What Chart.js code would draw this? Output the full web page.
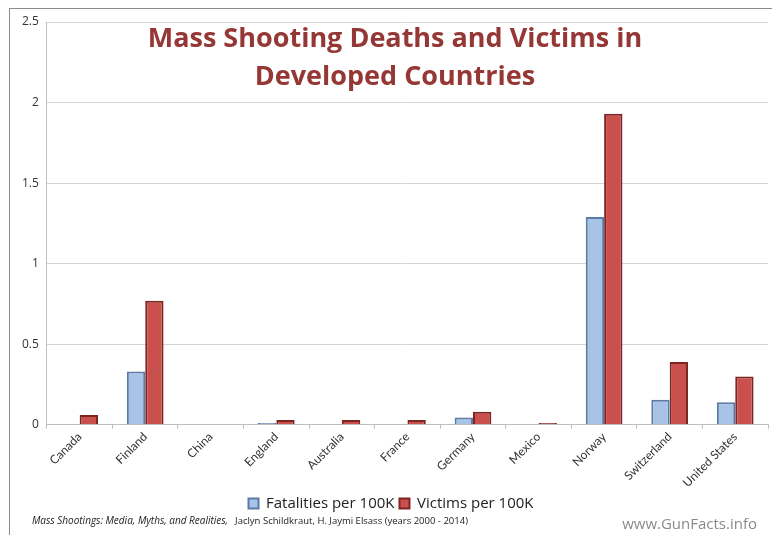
<!DOCTYPE html>
<html>
<head>
<meta charset="utf-8">
<script src="https://cdn.jsdelivr.net/npm/chart.js@4.4.0/dist/chart.umd.min.js"></script>
<style>
  html, body { margin: 0; padding: 0; background: #fff; }
  #wrap { position: relative; width: 772px; height: 535px; }
  #frame { position: absolute; left: 9px; top: 8px; width: 763px; height: 527px; border-left: 1px solid #8c8c8c; border-top: 1px solid #8c8c8c; box-sizing: border-box; pointer-events: none; }
</style>
</head>
<body>
<div id="wrap">
  <canvas id="chart" width="772" height="535"></canvas>
  <div id="frame"></div>
</div>
<script>
const countries = ["Canada", "Finland", "China", "England", "Australia", "France", "Germany", "Mexico", "Norway", "Switzerland", "United States"];
const fatalities = [0.002, 0.33, 0, 0.01, 0.002, 0.002, 0.045, 0.002, 1.29, 0.155, 0.14];
const victims = [0.06, 0.77, 0.005, 0.03, 0.03, 0.03, 0.08, 0.01, 1.93, 0.39, 0.30];
const titleLines = ["Mass Shooting Deaths and Victims in", "Developed Countries"];

const overlayText = {
  id: "overlayText",
  afterDraw: (chart) => {
    const ctx = chart.ctx;
    ctx.save();
    ctx.textAlign = "center";
    ctx.textBaseline = "middle";
    ctx.fillStyle = "#953735";
    ctx.font = "bold 27px 'Open Sans', sans-serif";
    ctx.fillText(titleLines[0], 395, 39);
    ctx.fillText(titleLines[1], 395, 77);

    // source note
    ctx.textAlign = "left";
    ctx.fillStyle = "#222";
    ctx.font = "italic 10px 'Open Sans', sans-serif";
    const src = "Mass Shootings: Media, Myths, and Realities,";
    ctx.fillText(src, 32, 521);
    const w = ctx.measureText(src).width;
    ctx.font = "9.5px 'Open Sans', sans-serif";
    ctx.fillText("Jaclyn Schildkraut, H. Jaymi Elsass (years 2000 - 2014)", 32 + w + 7, 521);

    ctx.textAlign = "right";
    ctx.fillStyle = "#8a8a8a";
    ctx.font = "15px 'Open Sans', sans-serif";
    ctx.fillText("www.GunFacts.info", 757, 525);
    ctx.restore();
  },
};

new Chart(document.getElementById("chart"), {
  type: "bar",
  data: {
    labels: countries,
    datasets: [
      {
        label: "Fatalities per 100K",
        data: fatalities,
        backgroundColor: "#a7c3e6",
        borderColor: "#5b7aa6",
        borderWidth: 2,
      },
      {
        label: "Victims per 100K",
        data: victims,
        backgroundColor: "#c9504d",
        borderColor: "#7e2522",
        borderWidth: 2,
      },
    ],
  },
  options: {
    responsive: false,
    animation: false,
    layout: { padding: { left: 14, right: 4, top: 22, bottom: 14 } },
    datasets: { bar: { categoryPercentage: 0.56, barPercentage: 1 } },
    scales: {
      y: {
        min: 0,
        max: 2.5,
        ticks: {
          stepSize: 0.5,
          color: "#333",
          font: { size: 12, family: "'Open Sans', sans-serif" },
          padding: 8,
          callback: (v) => String(v),
        },
        grid: { color: "#d4d4d4", drawTicks: false },
        border: { color: "#bfbfbf" },
      },
      x: {
        ticks: { color: "#333", maxRotation: 45, minRotation: 45, padding: 1, font: { size: 12, family: "Lato, sans-serif" } },
        grid: { offset: true, drawOnChartArea: false, tickLength: 4, color: "#bfbfbf" },
        border: { color: "#bfbfbf" },
      },
    },
    plugins: {
      legend: {
        position: "bottom",
        labels: { boxWidth: 10, boxHeight: 10, color: "#222", font: { size: 15, family: "'Open Sans', sans-serif" }, padding: 5 },
      },
      tooltip: { enabled: false },
    },
  },
  plugins: [overlayText],
});
</script>
</body>
</html>
